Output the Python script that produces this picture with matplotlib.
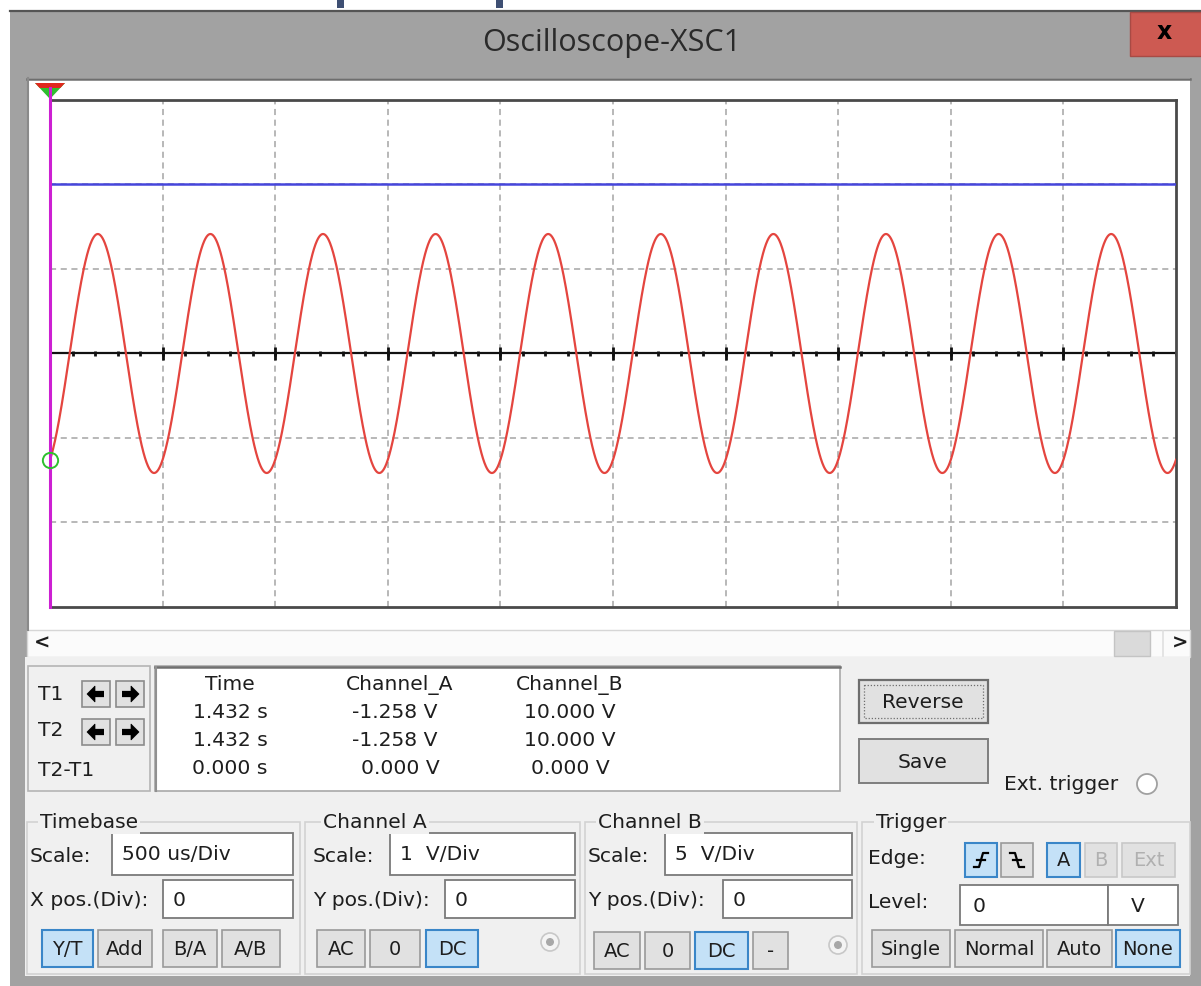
import numpy as np
import matplotlib
matplotlib.use("Agg")
import matplotlib.pyplot as plt
from matplotlib.patches import Rectangle, Circle, Polygon

n_div_x = 10
n_div_y = 6
timebase_us_per_div = 500          # 500 us/Div
chA_scale_v = 1.0                  # 1 V/Div
chB_scale_v = 5.0                  # 5 V/Div
chA_amplitude_v = 1.414            # peak of channel A sine
chA_frequency_hz = 2000.0          # one period per division
chA_value_at_cursor_v = -1.258     # reading at T1 (left edge), rising
chB_level_v = 10.0                 # channel B DC level

readout_headers = ["Time", "Channel_A", "Channel_B"]
readout_rows = [["1.432 s", "-1.258 V", "10.000 V"],
                ["1.432 s", "-1.258 V", "10.000 V"],
                ["0.000 s", "0.000 V", "0.000 V"]]
cursor_labels = ["T1", "T2", "T2-T1"]

# ---------------- figure ----------------
W, H = 1201, 986
fig = plt.figure(figsize=(W / 100, H / 100), dpi=100)
fig.patch.set_facecolor("white")

ui = fig.add_axes([0, 0, 1, 1])
ui.set_xlim(0, W)
ui.set_ylim(H, 0)
ui.axis("off")

FONT = "DejaVu Sans"
TXT = "#1e1e1e"
FS = 14.6
FB = 14.0


def box(x0, y0, x1, y1, fc, ec="none", lw=1.0, z=1, ls="-"):
    ui.add_patch(Rectangle((x0, y0), x1 - x0, y1 - y0, facecolor=fc,
                           edgecolor=ec, linewidth=lw, zorder=z, linestyle=ls))


def text(x, y, s, size=FS, ha="left", va="center", color=TXT, z=5, **kw):
    ui.text(x, y, s, fontsize=size, ha=ha, va=va, color=color,
            family=FONT, zorder=z, **kw)


def button(x0, y0, x1, y1, label, active=False, disabled=False, size=FB):
    if active:
        box(x0, y0, x1, y1, "#c4e1f7", "#3a86c8", 1.5, z=3)
    else:
        box(x0, y0, x1, y1, "#e1e1e1", "#9a9a9a" if not disabled else "#c8c8c8", 1.2, z=3)
    if label:
        text((x0 + x1) / 2, (y0 + y1) / 2 + 1, label, size=size, ha="center",
             color="#b0b0b0" if disabled else TXT)


def entry(x0, y0, x1, y1, label, tx=None):
    box(x0, y0, x1, y1, "white", "#7a7a7a", 1.3, z=3)
    text(tx if tx is not None else x0 + 10, (y0 + y1) / 2 + 1, label)


def group(x0, y0, x1, y1, label, lx):
    box(x0, y0, x1, y1, "none", "#d2d2d2", 1.2, z=2)
    ui.text(lx, y0, label, fontsize=FS, ha="left", va="center", color=TXT,
            family=FONT, zorder=4,
            bbox=dict(boxstyle="square,pad=0.1", fc="#f0f0f0", ec="none"))


# partially visible heading above the window
box(337, 0, 344, 8, "#3e4f73", z=1)
box(496, 0, 503, 8, "#3e4f73", z=1)

# window frame
box(10, 10, W + 2, H + 2, "#a2a2a2", z=0)
ui.plot([10, W], [10.5, 10.5], color="#555555", lw=1.6, zorder=1)
ui.text(612, 43, "Oscilloscope-XSC1", fontsize=22, ha="center", va="center",
        color="#2a2a2a", family="Open Sans", zorder=5)
box(1130, 12, W + 2, 56, "#cd5a52", "#a84a44", 1.0, z=2)
ui.text(1164, 32, "x", fontsize=17, ha="center", va="center", color="black",
        family=FONT, weight="bold", zorder=5)

# screen area
box(27, 78, 1190, 630, "white", "none", z=1)
ui.plot([27, 1190], [78.5, 78.5], color="#6e6e6e", lw=1.8, zorder=2)
ui.plot([27.5, 27.5], [78, 630], color="#8a8a8a", lw=1.5, zorder=2)
# scrollbar
box(27, 630, 1190, 657, "#fbfbfb", "#d6d6d6", 1.0, z=1)
box(1114, 631, 1150, 656, "#dadada", "#c4c4c4", 1.0, z=2)
ui.plot([1163, 1163], [631, 656], color="#e0e0e0", lw=1.2, zorder=2)
text(42, 643, "<", size=14, ha="center", weight="bold")
text(1180, 643, ">", size=14, ha="center", weight="bold")

# control area
box(25, 657, 1190, 976, "#f0f0f0", z=1)

# cursor panel
box(28, 666, 150, 791, "#f0f0f0", "#b5b5b5", 1.2, z=2)
box(155, 666, 840, 791, "white", "#a8a8a8", 1.2, z=2)
ui.plot([155, 840], [667, 667], color="#707070", lw=1.8, zorder=3)
ui.plot([155.5, 155.5], [667, 791], color="#909090", lw=1.5, zorder=3)
for lab, yy in zip(cursor_labels, [694, 731, 771]):
    text(38, yy, lab)
for yy in [681, 719]:
    for x0, d in [(82, -1), (116, 1)]:
        box(x0, yy, x0 + 28, yy + 26, "#e1e1e1", "#8c8c8c", 1.2, z=3)
        cx, cy = x0 + 14, yy + 13
        head = [(cx + d * 9, cy), (cx + d * 1, cy - 8), (cx + d * 1, cy + 8)]
        ui.add_patch(Polygon(head, closed=True, fc="black", ec="black", lw=0.5, zorder=4))
        ui.plot([cx - d * 8, cx + d * 2], [cy, cy], color="black", lw=4.5,
                solid_capstyle="butt", zorder=4)

col_x = [230, 400, 570]
for cx, h in zip(col_x, readout_headers):
    text(cx, 685, h, ha="center")
for r, yy in zip(readout_rows, [712, 740, 768]):
    for cx, v in zip(col_x, r):
        text(cx - (5 if v.startswith("-") else 0), yy, v, ha="center")

# Reverse / Save
box(859, 680, 988, 723, "#e1e1e1", "#6e6e6e", 1.6, z=3)
box(864, 685, 983, 718, "none", "#6e6e6e", 0.9, z=4, ls=(0, (1, 1.5)))
text(923, 703, "Reverse", ha="center")
box(859, 739, 988, 783, "#e1e1e1", "#7e7e7e", 1.4, z=3)
text(923, 762, "Save", ha="center")
text(1004, 785, "Ext. trigger")
ui.add_patch(Circle((1147, 784), 10, fc="white", ec="#a0a0a0", lw=1.3, zorder=4))

# Timebase group
group(27, 822, 300, 974, "Timebase", 40)
text(30, 857, "Scale:")
entry(112, 833, 293, 875, "500 us/Div")
text(30, 900, "X pos.(Div):")
entry(163, 880, 293, 918, "0")
button(42, 930, 93, 967, "Y/T", active=True)
button(98, 930, 152, 967, "Add")
button(163, 930, 217, 967, "B/A")
button(222, 930, 280, 967, "A/B")

# Channel A group
group(305, 822, 580, 974, "Channel A", 323)
text(313, 857, "Scale:")
entry(390, 833, 575, 875, "1  V/Div")
text(313, 900, "Y pos.(Div):")
entry(445, 880, 575, 918, "0")
button(317, 930, 365, 967, "AC")
button(370, 930, 420, 967, "0")
button(426, 930, 478, 967, "DC", active=True)
ui.add_patch(Circle((550, 942), 9, fc="#f4f4f4", ec="#c8c8c8", lw=1.2, zorder=4))
ui.add_patch(Circle((550, 942), 4, fc="#a8a8a8", ec="none", zorder=5))

# Channel B group
group(585, 822, 857, 974, "Channel B", 598)
text(588, 857, "Scale:")
entry(665, 833, 852, 875, "5  V/Div")
text(588, 900, "Y pos.(Div):")
entry(723, 880, 852, 918, "0")
button(594, 932, 640, 969, "AC")
button(645, 932, 690, 969, "0")
button(695, 932, 748, 969, "DC", active=True)
button(753, 932, 788, 969, "-")
ui.add_patch(Circle((838, 945), 9, fc="#f4f4f4", ec="#c8c8c8", lw=1.2, zorder=4))
ui.add_patch(Circle((838, 945), 4, fc="#a8a8a8", ec="none", zorder=5))

# Trigger group
group(862, 822, 1190, 974, "Trigger", 876)
text(868, 859, "Edge:")
button(965, 843, 997, 877, "", active=True)
button(1001, 843, 1033, 877, "")
for cx, rising in [(981, True), (1017, False)]:
    cy = 860
    if rising:
        xs, ys = [cx - 7, cx - 2, cx + 2, cx + 7], [cy + 7, cy + 7, cy - 7, cy - 7]
    else:
        xs, ys = [cx - 7, cx - 2, cx + 2, cx + 7], [cy - 7, cy - 7, cy + 7, cy + 7]
    ui.plot(xs, ys, color="black", lw=1.6, zorder=5)
    ui.plot([cx - 4, cx + 4], [cy, cy], color="black", lw=1.6, zorder=5)
button(1047, 843, 1080, 877, "A", active=True)
button(1085, 843, 1117, 877, "B", disabled=True)
button(1122, 843, 1175, 877, "Ext", disabled=True)
text(868, 902, "Level:")
entry(960, 885, 1108, 925, "0", tx=973)
box(1108, 885, 1178, 925, "white", "#7a7a7a", 1.3, z=3)
text(1131, 906, "V")
button(872, 930, 950, 967, "Single")
button(955, 930, 1043, 967, "Normal")
button(1047, 930, 1112, 967, "Auto")
button(1116, 930, 1180, 967, "None", active=True)

# ---------------- scope display ----------------
x0p, x1p, y0p, y1p = 50, 1176, 100, 607
sc = fig.add_axes([x0p / W, 1 - y1p / H, (x1p - x0p) / W, (y1p - y0p) / H])
sc.set_facecolor("white")
sc.set_xlim(0, n_div_x)
sc.set_ylim(-n_div_y / 2, n_div_y / 2)
sc.set_xticks([])
sc.set_yticks([])
for side in ["top", "right", "bottom"]:
    sc.spines[side].set_color("#4a4a4a")
    sc.spines[side].set_linewidth(2.0)
sc.spines["left"].set_visible(False)

grid_kw = dict(color="#a4a4a4", lw=1.1, linestyle=(0, (4, 3)), zorder=1)
for gx in range(1, n_div_x):
    sc.axvline(gx, **grid_kw)
for gy in [-2, -1, 1, 2]:
    sc.axhline(gy, **grid_kw)

# centre axis with ticks
sc.axhline(0, color="#111111", lw=1.6, zorder=2)
minor = np.arange(0, n_div_x + 1e-9, 0.2)
sc.vlines(minor, -0.035, 0.035, color="#111111", lw=2.0, zorder=2)
sc.vlines(np.arange(1, n_div_x), -0.075, 0.075, color="#111111", lw=2.0, zorder=2)

period_div = 1e6 / chA_frequency_hz / timebase_us_per_div
phase = np.arcsin(chA_value_at_cursor_v / chA_amplitude_v)
t_div = np.linspace(0, n_div_x, 3000)
vA = chA_amplitude_v * np.sin(2 * np.pi * t_div / period_div + phase)
sc.plot(t_div, vA / chA_scale_v, color="#e4453f", lw=1.6, zorder=3)
sc.axhline(chB_level_v / chB_scale_v, color="#4646dc", lw=1.8, zorder=3)

# cursor T1 at left edge
sc.plot([0, 0], [-3, 3.14], color="#cc1fd2", lw=2.2, zorder=5, clip_on=False)
sc.plot([0], [chA_value_at_cursor_v / chA_scale_v], marker="o", ms=11, mfc="none",
        mec="#2ec02e", mew=1.4, zorder=6, clip_on=False)

# cursor flag at the top
ui.add_patch(Polygon([(35, 83), (65, 83), (50, 99)], closed=True, fc="#2fbf2f",
                     ec="none", zorder=6))
ui.add_patch(Polygon([(35, 83), (65, 83), (60.3, 88), (39.7, 88)], closed=True,
                     fc="#e0281e", ec="none", zorder=7))

fig.savefig("out.png", dpi=100, facecolor="white")
